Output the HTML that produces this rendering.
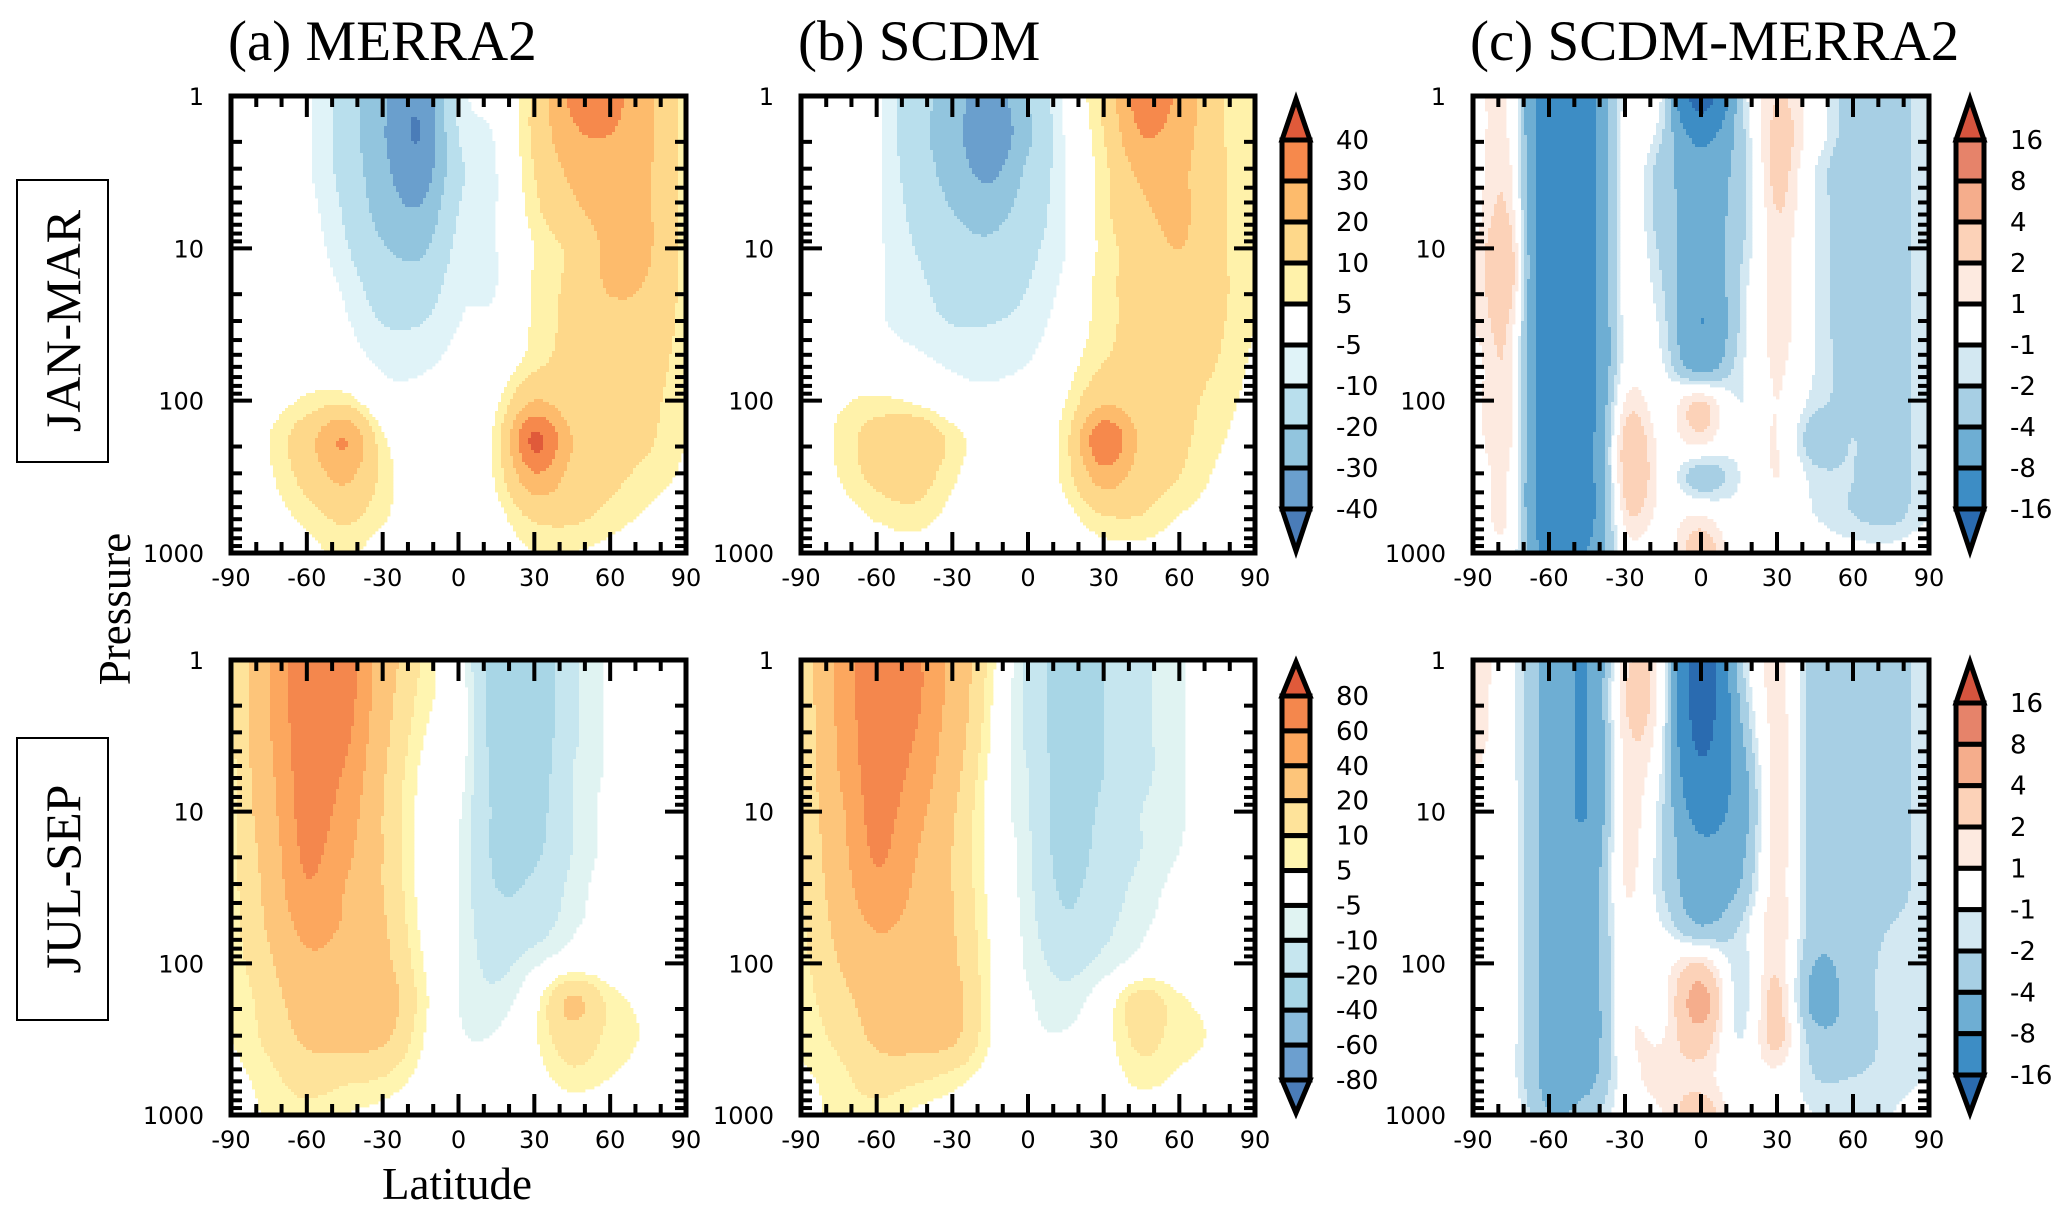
<!DOCTYPE html>
<html><head><meta charset="utf-8"><style>
html,body{margin:0;padding:0;background:#fff;}
svg{display:block;}
.t{font-family:"DejaVu Sans","Liberation Sans",sans-serif;font-size:24px;fill:#000;}
.ttl{font-family:"Liberation Serif",serif;font-size:57px;fill:#000;}
.row{font-family:"Liberation Serif",serif;font-size:50px;fill:#000;}
.ax{font-family:"Liberation Serif",serif;font-size:45px;fill:#000;}
</style></head><body>
<svg id="fig" width="2067" height="1216" viewBox="0 0 2067 1216" xmlns="http://www.w3.org/2000/svg">
<text class="ttl" x="228" y="60">(a) MERRA2</text>
<text class="ttl" x="798" y="60">(b) SCDM</text>
<text class="ttl" x="1470" y="60">(c) SCDM-MERRA2</text>
<rect x="17" y="180" width="91" height="282" fill="none" stroke="#000" stroke-width="2"/>
<text class="row" transform="translate(80,321) rotate(-90)" text-anchor="middle">JAN-MAR</text>
<rect x="17" y="738" width="91" height="282" fill="none" stroke="#000" stroke-width="2"/>
<text class="row" transform="translate(80,879) rotate(-90)" text-anchor="middle">JUL-SEP</text>
<text class="ax" transform="translate(130,609) rotate(-90)" text-anchor="middle">Pressure</text>
<text class="ax" x="457" y="1199" text-anchor="middle">Latitude</text>
<g id="plots"></g>
</svg>
<script>
// Grid: latitude columns and pressure rows (hPa)
const lats = [-90,-75,-60,-45,-30,-15,0,15,30,45,60,75,90];
const levelsHpa = [1,1.78,3.16,5.62,10,17.8,31.6,56.2,100,178,316,562,1000];
const yTickLabels = ["1","10","100","1000"];
const xTickLabels = ["-90","-60","-30","0","30","60","90"];

const boundsJan = [-40,-30,-20,-10,-5,5,10,20,30,40];
const colorsJan = ["#4a7cb8","#6a9fcd","#92c5de","#b9dfed","#e0f3f8","#ffffff","#fff2aa","#fed88a","#fdbb6c","#f6894c","#e05a3a"];
const boundsJul = [-80,-60,-40,-20,-10,-5,5,10,20,40,60,80];
const colorsJul = ["#4a7cb8","#6c9fcf","#8bbcdc","#a8d6e6","#c6e6ef","#e0f3f2","#ffffff","#fff5b0","#fee39a","#fdc57a","#fca75e","#f4874d","#e05a3a"];
const boundsDiff = [-16,-8,-4,-2,-1,1,2,4,8,16];
const colorsDiff = ["#2a6bb0","#3d8dc5","#6eaed3","#a7cfe4","#d3e8f2","#ffffff","#fdeae0","#fcd2b8","#f5ad8c","#e6836a","#d6543e"];

const merraJan = [
[0,0,-4,-14,-28,-38,-8,-2,12,32,33,22,8],
[0,0,-4,-14,-29,-40,-10,-4,12,28,30,22,8],
[0,0,-4,-13,-27,-36,-12,-5,10,22,25,21,8],
[0,0,-3,-11,-24,-29,-10,-5,8,18,23,21,8],
[0,0,-2,-9,-19,-22,-8,-5,5,12,22,21,8],
[0,0,-1,-6,-14,-15,-6,-5,6,12,21,19,8],
[0,0,0,-4,-10,-10,-5,-3,6,12,16,16,8],
[0,1,2,-1,-6,-6,-3,0,8,13,14,14,7],
[0,2,6,8,-2,-3,0,4,20,14,13,12,6],
[0,5,16,30,6,0,0,7,42,20,13,11,5],
[0,4,13,22,8,0,0,6,28,17,12,8,4],
[0,2,7,12,6,0,0,3,12,12,8,4,2],
[0,0,3,6,2,0,-3,1,5,5,3,1,0]];
const scdmJan = [
[0,0,-4,-15,-25,-35,-20,-3,12,35,28,12,5],
[0,0,-4,-16,-26,-38,-22,-4,10,30,25,12,5],
[0,0,-4,-14,-24,-32,-18,-5,8,22,22,12,5],
[0,0,-4,-12,-20,-24,-15,-5,8,18,22,12,5],
[0,0,-4,-10,-16,-18,-12,-5,7,14,20,12,5],
[0,0,-4,-8,-13,-13,-10,-3,8,12,14,12,5],
[0,0,-4,-7,-10,-10,-8,-1,8,12,12,11,5],
[0,0,-1,-3,-6,-7,-5,2,10,13,12,10,4],
[0,4,6,4,-1,-3,0,5,18,14,12,8,3],
[0,6,14,18,8,0,1,8,38,18,12,6,2],
[0,5,12,14,6,0,0,7,25,15,10,4,1],
[0,2,6,8,3,0,0,3,10,10,5,2,0],
[0,0,1,2,0,0,0,1,3,3,1,0,0]];
const merraJul = [
[8,40,75,70,30,10,-2,-25,-30,-12,-4,0,0],
[8,40,75,70,28,8,0,-25,-28,-12,-4,0,0],
[8,38,72,65,25,6,0,-25,-27,-12,-4,0,0],
[8,35,70,58,22,4,-2,-23,-26,-10,-4,0,0],
[8,32,68,52,20,3,-4,-22,-24,-10,-3,0,0],
[8,28,64,46,20,3,-5,-22,-22,-10,-3,0,0],
[8,25,58,40,20,3,-5,-20,-18,-8,-2,0,0],
[8,22,46,38,22,4,-5,-16,-14,-6,-2,0,0],
[7,18,36,32,24,6,-5,-12,-6,0,0,0,0],
[6,14,28,28,28,8,-5,-8,2,22,8,3,0],
[5,12,22,24,22,6,-4,-4,4,15,8,4,0],
[3,8,14,12,10,3,-3,-1,2,8,5,2,0],
[1,6,8,5,3,0,-2,0,0,1,0,0,0]];
const scdmJul = [
[10,45,75,65,35,8,-12,-25,-20,-12,-6,0,0],
[10,45,75,65,33,6,-12,-25,-20,-12,-6,0,0],
[10,42,72,60,30,5,-12,-25,-20,-12,-6,0,0],
[10,40,70,55,26,3,-10,-25,-20,-12,-6,0,0],
[10,35,67,48,22,2,-10,-25,-18,-10,-6,0,0],
[10,32,63,42,20,2,-8,-25,-16,-10,-5,0,0],
[10,28,55,38,20,3,-8,-22,-14,-8,-3,0,0],
[9,24,42,34,21,4,-7,-18,-12,-6,-2,0,0],
[8,20,32,28,22,5,-6,-12,-8,-2,0,0,0],
[7,16,25,25,25,5,-4,-8,0,14,6,3,0],
[6,12,22,24,22,5,-3,-4,2,12,7,4,0],
[4,8,14,12,8,2,-1,-1,1,7,4,2,0],
[2,7,8,4,2,0,0,0,0,1,0,0,0]];
const diffJan = [
[0.5,0.5,-12,-10,-0.5,-1.5,-20,-3,2,0,-3,-3,-1],
[0.5,0.5,-12,-10,-0.5,-2,-10,-3,2.5,0,-3,-3,-1],
[0.5,1,-12,-10,-0.5,-3,-6,-3,2.5,-1,-3.5,-3,-1],
[0.5,1.5,-12,-10,-0.5,-3,-5,-3,2,-1,-3,-3,-1],
[1,2.5,-12,-10,-0.5,-2.5,-6,-2.5,1.5,-1,-3,-3,-1],
[1,2.5,-12,-10,-0.5,-2,-7,-2,1.5,-1,-3,-3,-1],
[1,1.5,-12,-10,-0.5,-1.5,-8,-2,1.5,-1,-3,-3,-1],
[0.5,1.2,-12,-10,-0.5,-1,-6,-1.5,1.2,-1,-3,-3,-1],
[0.5,1.2,-12,-10,1,0,2,-1,1,-1.5,-2.5,-3,-1],
[0.5,1,-12,-10,2.5,0.5,1.5,-0.5,1,-3,-2,-3,-1],
[0,0.5,-12,-10,2.5,0.5,-3,-1,1,-1.5,-2,-3,-1],
[0,0.5,-12,-10,1.5,0.5,1,-0.5,0.5,-1,-2,-2.5,-1],
[0,0,-10,-8,0,0,3,0,0,0,-0.5,-0.5,0]];
const diffJul = [
[2,-0.5,-5,-8,1.5,-0.5,-20,-3,1.5,-3,-3,-3,-1],
[1.5,-0.5,-5,-8,2,-0.5,-20,-4,1.5,-3,-3,-3,-1],
[1.5,-0.5,-5,-8,1.5,-1,-18,-5,1.5,-3,-3,-3,-1],
[1,-0.5,-5,-8,1.2,-1.5,-14,-6,1.5,-3,-3,-3,-1],
[0.5,-0.5,-5,-8,1.2,-2,-10,-6,1.5,-3,-3,-3,-1],
[0.5,-0.5,-5,-7,1.2,-2,-7,-5,1.5,-3,-3,-3,-1],
[0.5,-0.5,-5,-6,1,-2,-6,-4,1.5,-3,-3,-3,-1],
[0.5,-0.5,-5,-6,0.5,-1,-4,-2,1.8,-3,-3,-2,-1],
[0.5,-0.5,-5,-6,0.5,0.5,2,-1.5,1.8,-4,-3,-1.5,-1],
[0.5,-0.5,-5,-6,0.5,0.5,5,-1.5,2.5,-5,-3,-1.5,-1],
[0.5,-0.5,-5,-6,0.5,1,3,-1,2.5,-3,-3,-1.5,-1],
[0.5,-0.5,-5,-5,0,1.5,1.5,0,0.5,-2,-2,-1.5,-1],
[0,0,-4,-3,0,1,3,0,0,-1,-1,-1,0]];

const NS="http://www.w3.org/2000/svg";
const root=document.getElementById('plots');
function mk(tag,attrs,parent){const e=document.createElementNS(NS,tag);for(const k in attrs)e.setAttribute(k,attrs[k]);(parent||root).appendChild(e);return e;}

function cr(p0,p1,p2,p3,t){return 0.5*((2*p1)+(-p0+p2)*t+(2*p0-5*p1+4*p2-p3)*t*t+(-p0+3*p1-3*p2+p3)*t*t*t);}
function sample(grid,lat,logp){
  const fc=(lat-lats[0])/(lats[1]-lats[0]);
  const fr=(logp-Math.log10(levelsHpa[0]))/(Math.log10(levelsHpa[levelsHpa.length-1])-Math.log10(levelsHpa[0]))*(levelsHpa.length-1);
  const nc=lats.length,nr=levelsHpa.length;
  let c=Math.min(Math.floor(fc),nc-2),r=Math.min(Math.floor(fr),nr-2);
  const tc=fc-c,tr=fr-r;
  const g=(i,j)=>grid[Math.max(0,Math.min(nr-1,i))][Math.max(0,Math.min(nc-1,j))];
  const rows=[];
  for(let i=-1;i<=2;i++){rows.push(cr(g(r+i,c-1),g(r+i,c),g(r+i,c+1),g(r+i,c+2),tc));}
  return cr(rows[0],rows[1],rows[2],rows[3],tr);
}
function bin(v,bounds){let k=0;while(k<bounds.length&&v>=bounds[k])k++;return k;}

function panel(name,grid,bounds,colors,x0,y0,w,h){
  const g=mk('g',{});
  
  
  const xs=lat=>x0+(lat+90)/180*w;
  const ys=p=>y0+Math.log10(p)/3*h;
  const cell=3;
  const nx=Math.ceil(w/cell),ny=Math.ceil(h/cell);
  for(let j=0;j<ny;j++){
    const py=y0+j*cell;
    const logp=(j+0.5)*cell/h*3;
    let runStart=0,runBin=-1;
    for(let i=0;i<=nx;i++){
      let b=-2;
      if(i<nx){const lat=-90+(i+0.5)*cell/w*180;b=bin(sample(grid,lat,logp),bounds);}
      if(b!==runBin){
        if(runBin>=0&&colors[runBin]!=="#ffffff"){
          const r=mk('rect',{x:x0+runStart*cell,y:py,width:Math.min((i-runStart)*cell,w-runStart*cell)+0.4,height:Math.min(cell,h-j*cell)+0.4,fill:colors[runBin]},g);
          
          
        }
        runStart=i;runBin=b;
      }
    }
  }
  const tk=mk('g',{stroke:'#000','stroke-width':4},g);
  
  
  for(let lat=-80;lat<=80;lat+=10){
    const L=(lat%30===0)?21:11;const x=xs(lat);
    mk('line',{x1:x,y1:y0,x2:x,y2:y0+L},tk);mk('line',{x1:x,y1:y0+h,x2:x,y2:y0+h-L},tk);
  }
  for(let d=0;d<3;d++){for(let m=1;m<=9;m++){
    const p=m*Math.pow(10,d);if(p===1)continue;
    const L=(m===1)?21:11;const y=ys(p);
    mk('line',{x1:x0,y1:y,x2:x0+L,y2:y},tk);mk('line',{x1:x0+w,y1:y,x2:x0+w-L,y2:y},tk);
  }}
  const fr=mk('rect',{x:x0,y:y0,width:w,height:h,fill:'none',stroke:'#000','stroke-width':5},g);
  
  
  yTickLabels.forEach((s,k)=>{
    const t=mk('text',{class:'t',x:x0-27,y:ys(Math.pow(10,k))+9,'text-anchor':'end'},g);t.textContent=s;
    
    
  });
  xTickLabels.forEach(s=>{
    const t=mk('text',{class:'t',x:xs(+s),y:y0+h+33,'text-anchor':'middle'},g);t.textContent=s;
    
    
  });
}

function colorbar(name,bounds,colors,x0,x1,tipTop,top,bottom,tipBot,labelX){
  const g=mk('g',{});
  
  
  const nseg=bounds.length-1;const sh=(bottom-top)/nseg;const cx=(x0+x1)/2;
  const n=colors.length;
  const tri1=mk('polygon',{points:`${x0},${top} ${x1},${top} ${cx},${tipTop}`,fill:colors[n-1],stroke:'#000','stroke-width':5,'stroke-linejoin':'miter'},g);
  
  
  const tri2=mk('polygon',{points:`${x0},${bottom} ${x1},${bottom} ${cx},${tipBot}`,fill:colors[0],stroke:'#000','stroke-width':5},g);
  
  
  for(let s=0;s<nseg;s++){
    const r=mk('rect',{x:x0,y:top+s*sh,width:x1-x0,height:sh,fill:colors[n-2-s],stroke:'#000','stroke-width':5},g);
    
    
  }
  for(let k=0;k<bounds.length;k++){
    const t=mk('text',{class:'t',x:labelX,y:top+k*sh+9,style:'font-size:26px'},g);
    t.textContent=String(bounds[bounds.length-1-k]);
    
    
  }
}

panel('panel-a-jan-mar',merraJan,boundsJan,colorsJan,231,96,455,457);
panel('panel-b-jan-mar',scdmJan,boundsJan,colorsJan,801,96,454,457);
panel('panel-c-jan-mar',diffJan,boundsDiff,colorsDiff,1473,96,456,457);
panel('panel-a-jul-sep',merraJul,boundsJul,colorsJul,231,660,455,455);
panel('panel-b-jul-sep',scdmJul,boundsJul,colorsJul,801,660,454,455);
panel('panel-c-jul-sep',diffJul,boundsDiff,colorsDiff,1473,660,456,455);
colorbar('colorbar-b-jan-mar',boundsJan,colorsJan,1282,1310,99,140,509,551,1336);
colorbar('colorbar-c-jan-mar',boundsDiff,colorsDiff,1956,1984,99,140,509,551,2010);
colorbar('colorbar-b-jul-sep',boundsJul,colorsJul,1282,1310,662,696,1080,1113,1336);
colorbar('colorbar-c-jul-sep',boundsDiff,colorsDiff,1956,1984,662,703,1075,1113,2010);
</script>
</body></html>
